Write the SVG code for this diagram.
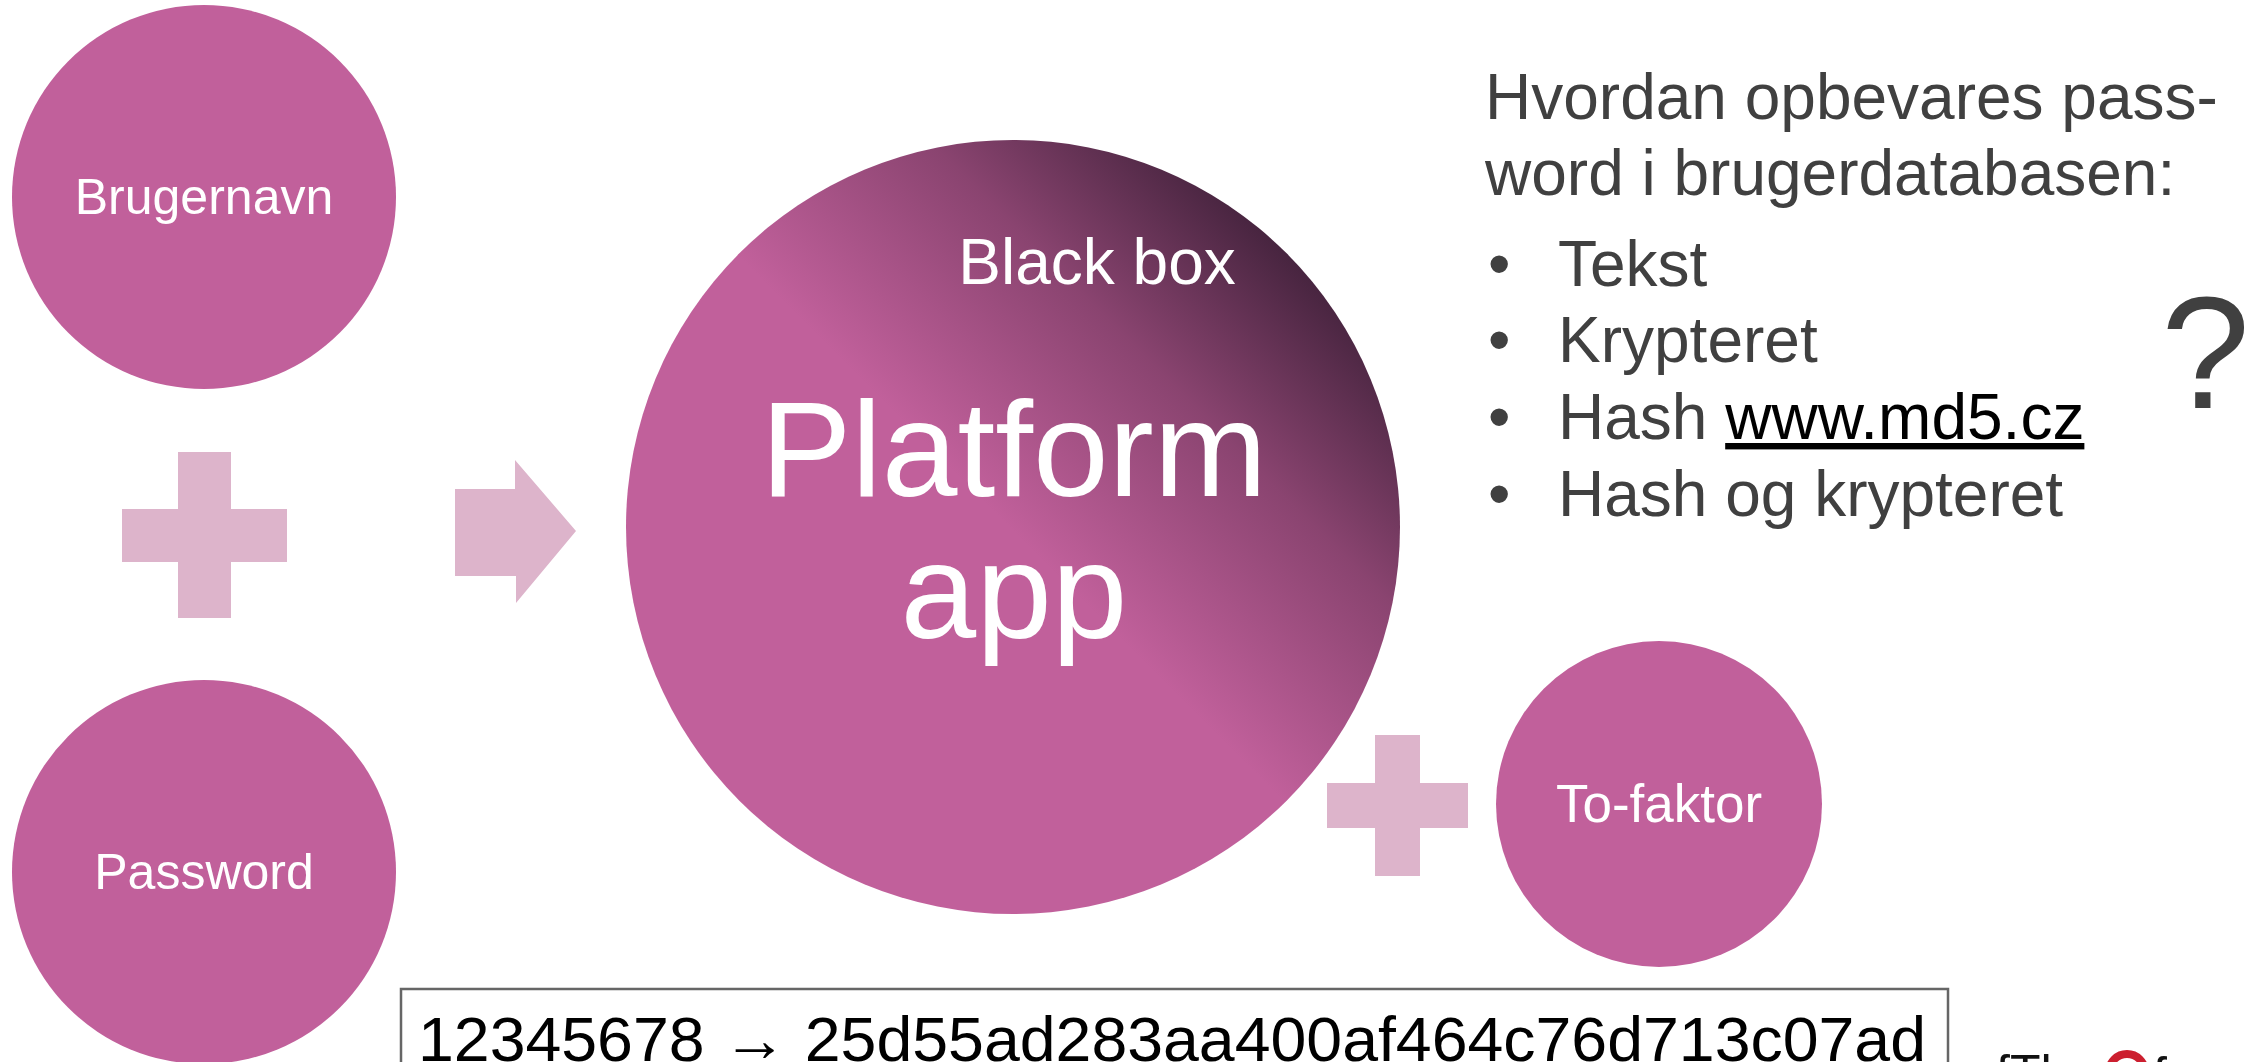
<svg xmlns="http://www.w3.org/2000/svg" width="2262" height="1062" viewBox="0 0 2262 1062">
<defs>
<linearGradient id="bb" gradientUnits="userSpaceOnUse" x1="960" y1="580" x2="1300" y2="240">
<stop offset="0" stop-color="#C1609B"/>
<stop offset="0.15" stop-color="#C1609B"/>
<stop offset="0.6" stop-color="#8A4470"/>
<stop offset="1" stop-color="#40213A"/>
</linearGradient>
</defs>
<style>
.node{fill:#C1609B}
.lbl{font-family:"Liberation Sans",Arial,sans-serif;fill:#FFFFFF;text-anchor:middle}
.sym{fill:#DDB4CB}
.txt{font-family:"Liberation Sans",Arial,sans-serif;fill:#404040;font-size:64px}
.qm{font-family:"Liberation Sans",Arial,sans-serif;fill:#404040;font-size:160px}
</style>
<rect width="2262" height="1062" fill="#FFFFFF"/>

<g id="connectors">
<path class="sym" d="M178 452H231V509H287V562H231V618H178V562H122V509H178Z"/>
<path class="sym" d="M455 489H515V460L576 531L516 603V576H455Z"/>
<path class="sym" d="M1375 735H1420V783H1468V828H1420V876H1375V828H1327V783H1375Z"/>
</g>

<g id="brugernavn">
<circle class="node" cx="204" cy="197" r="192"/>
<text class="lbl" x="204" y="214" font-size="50">Brugernavn</text>
</g>

<g id="password">
<circle class="node" cx="204" cy="872" r="192"/>
<text class="lbl" x="204" y="889" font-size="50">Password</text>
</g>

<g id="platform">
<circle cx="1013" cy="527" r="387" fill="url(#bb)"/>
<text class="lbl" x="1097" y="284" font-size="64">Black box</text>
<text class="lbl" x="1014" y="496" font-size="136">Platform</text>
<text class="lbl" x="1014" y="638" font-size="136">app</text>
</g>

<g id="tofaktor">
<circle class="node" cx="1659" cy="804" r="163"/>
<text class="lbl" x="1659" y="822" font-size="53">To-faktor</text>
</g>

<g id="question">
<text class="txt" x="1485" y="119">Hvordan opbevares pass-</text>
<text class="txt" x="1485" y="195">word i brugerdatabasen:</text>
<text class="txt" x="1488" y="286">•</text>
<text class="txt" x="1558" y="286">Tekst</text>
<text class="txt" x="1488" y="362">•</text>
<text class="txt" x="1558" y="362">Krypteret</text>
<text class="txt" x="1488" y="439">•</text>
<text class="txt" x="1558" y="439">Hash <tspan fill="#000000" text-decoration="underline">www.md5.cz</tspan></text>
<text class="txt" x="1488" y="516">•</text>
<text class="txt" x="1558" y="516">Hash og krypteret</text>
<text class="qm" x="2161" y="408">?</text>
</g>

<g id="hashbox">
<rect x="401" y="989" width="1547" height="120" fill="none" stroke="#666666" stroke-width="2.5"/>
<text x="418" y="1061" font-family="'Liberation Sans',Arial,sans-serif" font-size="63" fill="#000000" textLength="1508" lengthAdjust="spacingAndGlyphs">12345678 → 25d55ad283aa400af464c76d713c07ad</text>
</g>

<g id="logo">
<text x="1996" y="1090" font-family="'Liberation Sans',Arial,sans-serif" font-size="50" fill="#111111">fTh</text>
<circle cx="2127" cy="1072" r="18" fill="none" stroke="#CC1F2F" stroke-width="8"/>
<text x="2153" y="1092" font-family="'Liberation Sans',Arial,sans-serif" font-size="50" fill="#111111">f</text>
</g>
</svg>
